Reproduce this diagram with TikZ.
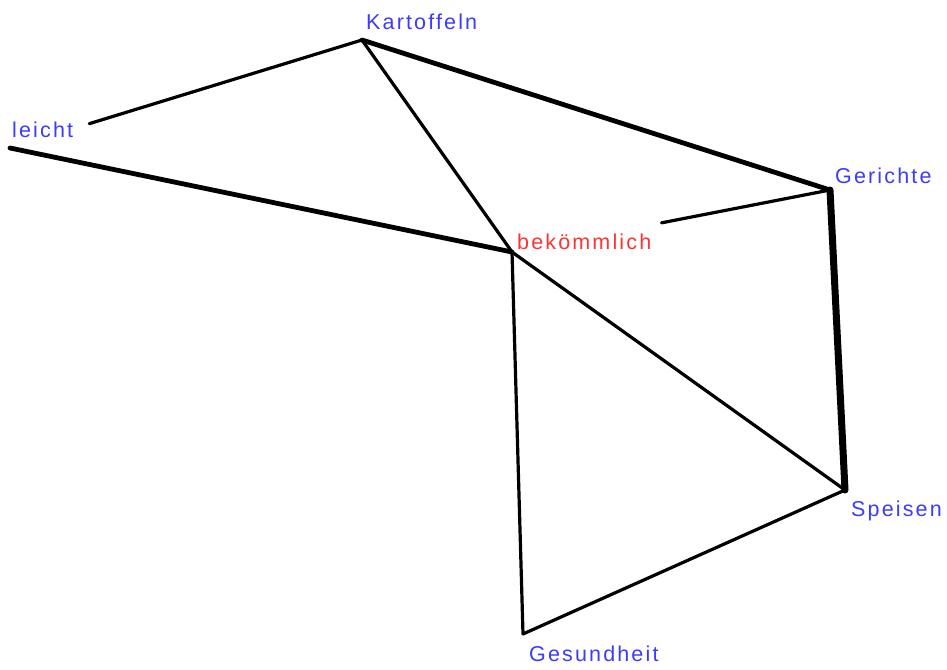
\documentclass[tikz,border=0pt]{standalone}
\usepackage{fontspec}
\setmainfont[LetterSpace=10]{Liberation Sans}
\usetikzlibrary{calc}
\definecolor{lblblue}{RGB}{60,60,255}
\definecolor{lblred}{RGB}{255,50,50}
\tikzset{
  lbl/.style={anchor=west,inner sep=0pt,font=\fontsize{21.5}{23}\selectfont,text=lblblue},
  lblr/.style={lbl,text=lblred},
  thinedge/.style={line width=3.2pt,line cap=round,line join=round},
  thickedge/.style={line width=4.8pt,line cap=round},
  heavyedge/.style={line width=7pt,line cap=round}
}
\begin{document}
\begin{tikzpicture}[x=1pt,y=-1pt]
\useasboundingbox (0,0) rectangle (947,669);
% points
\coordinate (pL) at (10,148);
\coordinate (pK) at (362,40);
\coordinate (pB) at (512,252);
\coordinate (pG) at (830,190);
\coordinate (pS) at (845,490);
\coordinate (pH) at (523,634);
% labels
\node[lbl] (leicht) at (12,130) {leicht};
\node[lbl] (kart) at (366,22) {Kartoffeln};
\node[lblr] (bek) at (517,242) {bekömmlich};
\node[lbl] (ger) at (835,176) {Gerichte};
\node[lbl] (spe) at (851,511) {Speisen};
\node[lbl] (ges) at (529,654) {Gesundheit};
% clipped ends
\coordinate (eKL) at ($(pK)!0.775!(pL)$);
\coordinate (eGB) at ($(pG)!0.53!(pB)$);
% edges
\draw[thinedge] (pK) -- (eKL);
\draw[thickedge] (pL) -- (pB);
\draw[thinedge] (pK) -- (pB);
\draw[thickedge] (pK) -- (pG);
\draw[thinedge] (pG) -- (eGB);
\draw[heavyedge] (pG) -- (pS);
\draw[thinedge] (pB) -- (pS);
\draw[thinedge] (pB) -- (pH);
\draw[thinedge] (pS) -- (pH);
\end{tikzpicture}
\end{document}
